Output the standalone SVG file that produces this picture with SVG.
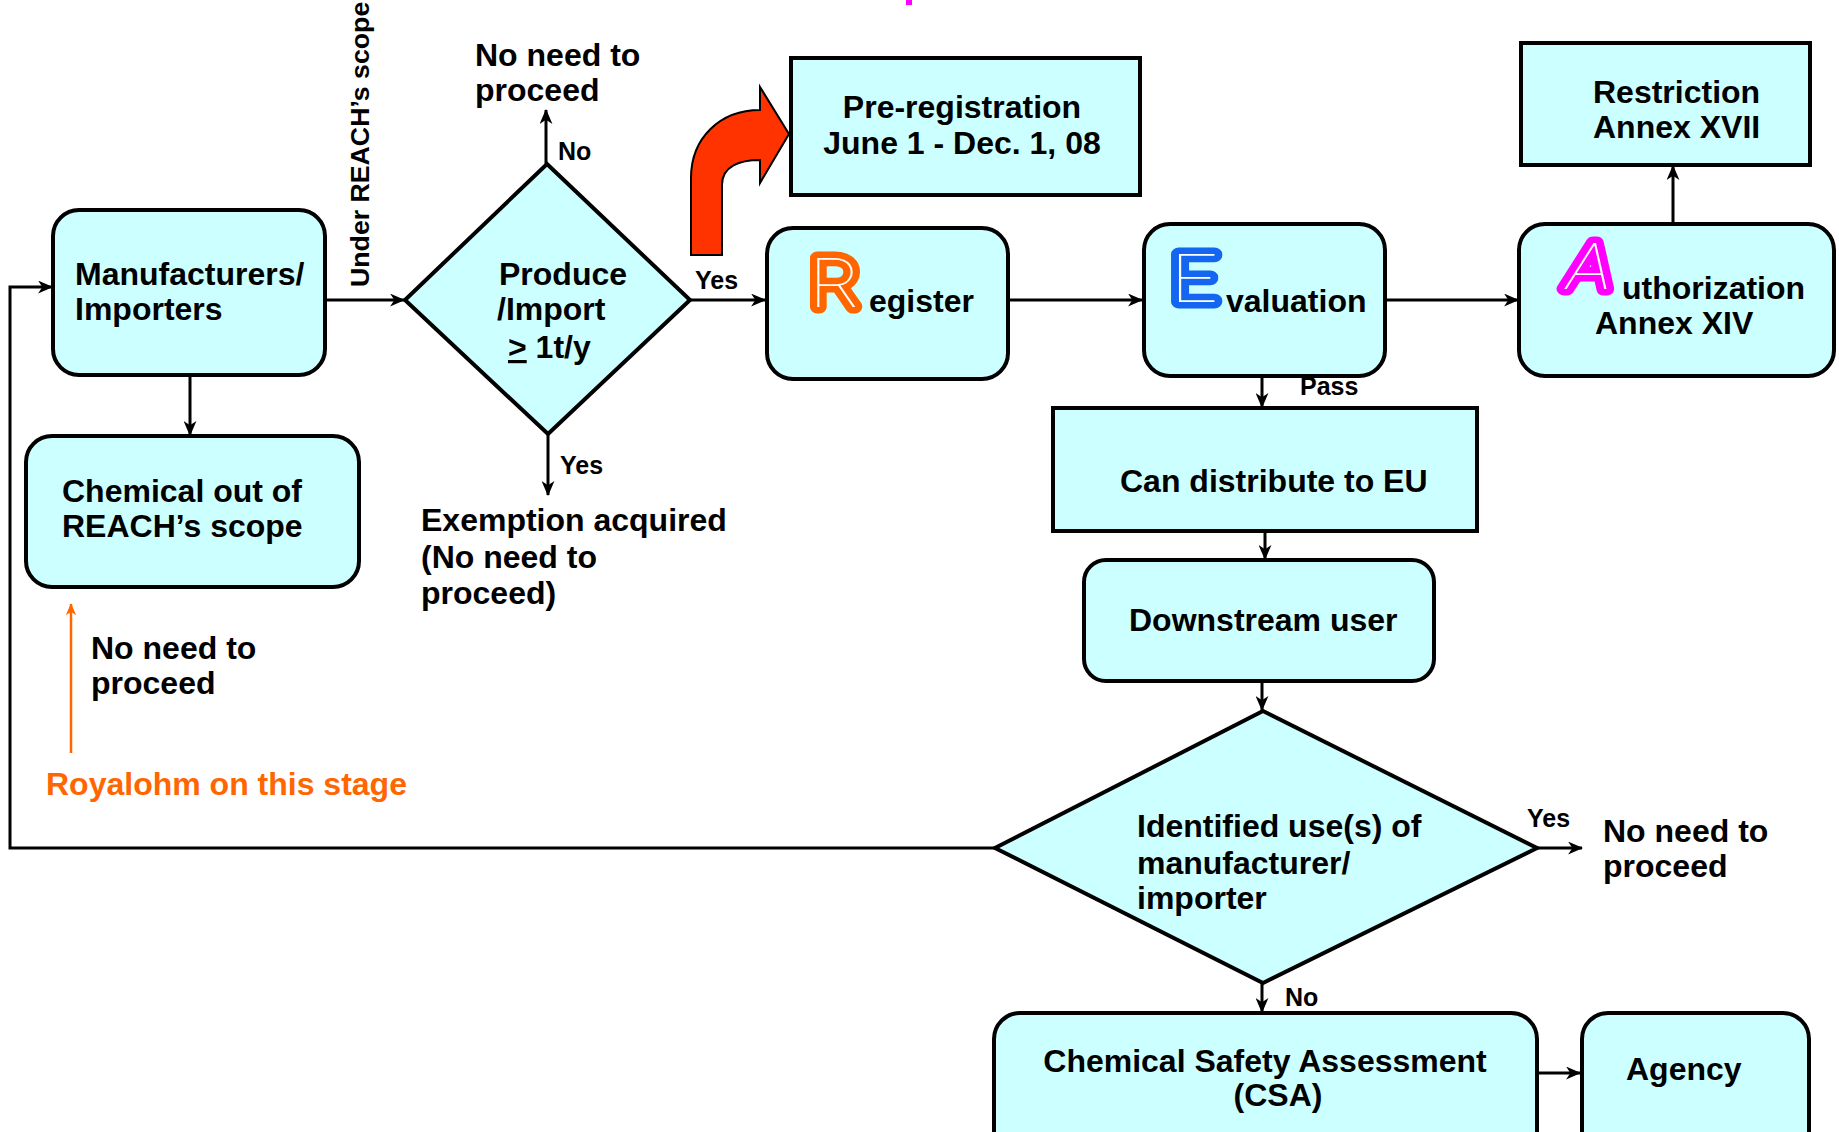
<svg xmlns="http://www.w3.org/2000/svg" width="1839" height="1132" viewBox="0 0 1839 1132">
<defs>
<style>
.box{fill:#CCFFFF;stroke:#000;stroke-width:4}
.t{font-family:"Liberation Sans",Arial,sans-serif;font-weight:bold;font-size:32px;fill:#000}
.s{font-family:"Liberation Sans",Arial,sans-serif;font-weight:bold;font-size:25px;fill:#000}
.c{fill:none;stroke:#000;stroke-width:3}
.fancy{font-family:Roboto,Inter,Lato,"DejaVu Sans",sans-serif;font-weight:100;fill:#fff;stroke-width:13;stroke-linejoin:round;paint-order:stroke}
</style>
<marker id="ah" viewBox="0 0 14 12" markerWidth="15" markerHeight="13" refX="13" refY="6" orient="auto" markerUnits="userSpaceOnUse">
<path d="M0,0 L14,6 L0,12 L4,6 Z" fill="#000"/>
</marker>
<marker id="aho" viewBox="0 0 14 12" markerWidth="12" markerHeight="12" refX="13" refY="6" orient="auto" markerUnits="userSpaceOnUse">
<path d="M0,0 L14,6 L0,12 L4,6 Z" fill="#FF6600"/>
</marker>
</defs>
<rect width="1839" height="1132" fill="#fff"/>
<rect x="906" y="0" width="6" height="5" fill="#FF00FF"/>

<g id="connectors">
<line class="c" x1="190" y1="375" x2="190" y2="435" marker-end="url(#ah)"/>
<line class="c" x1="325" y1="300" x2="404" y2="300" marker-end="url(#ah)"/>
<line class="c" x1="546" y1="164" x2="546" y2="110" marker-end="url(#ah)"/>
<line class="c" x1="548" y1="434" x2="548" y2="495" marker-end="url(#ah)"/>
<line class="c" x1="690" y1="300" x2="765" y2="300" marker-end="url(#ah)"/>
<line class="c" x1="1008" y1="300" x2="1142" y2="300" marker-end="url(#ah)"/>
<line class="c" x1="1386" y1="300" x2="1518" y2="300" marker-end="url(#ah)"/>
<line class="c" x1="1673" y1="224" x2="1673" y2="166" marker-end="url(#ah)"/>
<line class="c" x1="1262" y1="376" x2="1262" y2="407" marker-end="url(#ah)"/>
<line class="c" x1="1265" y1="531" x2="1265" y2="559" marker-end="url(#ah)"/>
<line class="c" x1="1262" y1="681" x2="1262" y2="710" marker-end="url(#ah)"/>
<line class="c" x1="1537" y1="848" x2="1582" y2="848" marker-end="url(#ah)"/>
<line class="c" x1="1262" y1="983" x2="1262" y2="1012" marker-end="url(#ah)"/>
<line class="c" x1="1537" y1="1073" x2="1580" y2="1073" marker-end="url(#ah)"/>
<polyline class="c" points="995,848 10,848 10,287 52,287" marker-end="url(#ah)"/>
<line x1="71" y1="753" x2="71" y2="604" stroke="#FF6600" stroke-width="2.5" marker-end="url(#aho)"/>
<path d="M691,255 L691,178 C691,138 720,110 760,110 L760,87 L789,134 L760,183 L760,160 C740,160 722,166 722,185 L722,255 Z" fill="#FF3300" stroke="#000" stroke-width="2"/>
</g>

<g id="manufacturers">
<rect class="box" x="53" y="210" width="272" height="165" rx="26"/>
<text class="t" x="75" y="285">Manufacturers/</text>
<text class="t" x="75" y="320">Importers</text>
</g>

<g id="out-of-scope">
<rect class="box" x="26" y="436" width="333" height="151" rx="26"/>
<text class="t" x="62" y="502">Chemical out of</text>
<text class="t" x="62" y="537">REACH’s scope</text>
</g>

<g id="under-scope-label">
<text class="s" style="font-size:26.7px" transform="translate(369,287) rotate(-90)">Under REACH’s scope</text>
</g>

<g id="produce-diamond">
<polygon class="box" points="547,164 690,300 548,434 405,300"/>
<text class="t" x="499" y="285">Produce</text>
<text class="t" x="497" y="320">/Import</text>
<text class="t" x="508" y="358"><tspan text-decoration="underline">&gt;</tspan> 1t/y</text>
</g>

<g id="labels-produce">
<text class="t" x="475" y="66">No need to</text>
<text class="t" x="475" y="101">proceed</text>
<text class="s" x="558" y="160">No</text>
<text class="s" x="560" y="474">Yes</text>
<text class="s" x="695" y="289">Yes</text>
<text class="t" x="421" y="531">Exemption acquired</text>
<text class="t" x="421" y="568">(No need to</text>
<text class="t" x="421" y="604">proceed)</text>
</g>

<g id="royalohm-note">
<text class="t" x="91" y="659">No need to</text>
<text class="t" x="91" y="694">proceed</text>
<text class="t" x="46" y="795" style="fill:#FF6600">Royalohm on this stage</text>
</g>

<g id="preregistration">
<rect class="box" x="791" y="58" width="349" height="137"/>
<text class="t" x="962" y="118" text-anchor="middle">Pre-registration</text>
<text class="t" x="962" y="154" text-anchor="middle">June 1 - Dec. 1, 08</text>
</g>

<g id="register">
<rect class="box" x="767" y="228" width="241" height="151" rx="26"/>
<text class="fancy" transform="translate(810,307) scale(1.13,1)" font-size="68" stroke="#FF6600">R</text>
<text class="t" x="869" y="312">egister</text>
</g>

<g id="evaluation">
<rect class="box" x="1144" y="224" width="241" height="152" rx="26"/>
<text class="fancy" transform="translate(1171,302) scale(1.22,1)" font-size="67" stroke="#1466F0">E</text>
<text class="t" x="1226" y="312">valuation</text>
</g>

<g id="authorization">
<rect class="box" x="1519" y="224" width="315" height="152" rx="26"/>
<text class="fancy" transform="translate(1567,289) scale(1.2,1)" font-size="64" font-style="italic" stroke="#FF00FF">A</text>
<text class="t" x="1622" y="299">uthorization</text>
<text class="t" x="1595" y="334">Annex XIV</text>
</g>

<g id="restriction">
<rect class="box" x="1521" y="43" width="289" height="122"/>
<text class="t" x="1593" y="103">Restriction</text>
<text class="t" x="1593" y="138">Annex XVII</text>
</g>

<g id="pass-label">
<text class="s" x="1300" y="395">Pass</text>
</g>

<g id="can-distribute">
<rect class="box" x="1053" y="408" width="424" height="123"/>
<text class="t" x="1120" y="492">Can distribute to EU</text>
</g>

<g id="downstream">
<rect class="box" x="1084" y="560" width="350" height="121" rx="22"/>
<text class="t" x="1129" y="631">Downstream user</text>
</g>

<g id="identified-diamond">
<polygon class="box" points="1263,711 1537,848 1263,983 995,848"/>
<text class="t" x="1137" y="837">Identified use(s) of</text>
<text class="t" x="1137" y="874">manufacturer/</text>
<text class="t" x="1137" y="909">importer</text>
</g>

<g id="labels-identified">
<text class="s" x="1527" y="827">Yes</text>
<text class="t" x="1603" y="842">No need to</text>
<text class="t" x="1603" y="877">proceed</text>
<text class="s" x="1285" y="1006">No</text>
</g>

<g id="csa">
<rect class="box" x="994" y="1013" width="543" height="160" rx="26"/>
<text class="t" x="1265" y="1072" text-anchor="middle">Chemical Safety Assessment</text>
<text class="t" x="1278" y="1106" text-anchor="middle">(CSA)</text>
</g>

<g id="agency">
<rect class="box" x="1582" y="1013" width="227" height="160" rx="26"/>
<text class="t" x="1626" y="1080">Agency</text>
</g>
</svg>
